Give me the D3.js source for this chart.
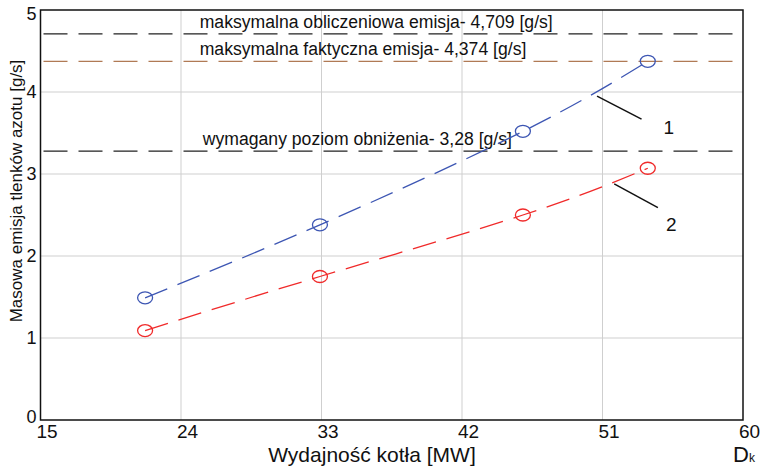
<!DOCTYPE html>
<html><head><meta charset="utf-8">
<script src="https://cdn.jsdelivr.net/npm/d3@7"></script>
<style>body{margin:0;background:#fff}svg{display:block}text{font-family:"Liberation Sans",Arial,sans-serif;fill:#111}</style>
</head><body>
<script>
const xTicks = [15, 24, 33, 42, 51, 60];
const yTicks = [0, 1, 2, 3, 4, 5];
const xValues = [21.7, 32.9, 45.9, 53.9];
const series1 = [1.49, 2.38, 3.52, 4.374];
const series2 = [1.09, 1.75, 2.50, 3.07];
const refValues = [4.709, 4.374, 3.28];
const refLabels = ["maksymalna obliczeniowa emisja- 4,709 [g/s]", "maksymalna faktyczna emisja- 4,374 [g/s]", "wymagany poziom obniżenia- 3,28 [g/s]"];
const refLabelX = [25.2, 25.2, 25.4];
const refColors = ["#222", "#b07a55", "#222"];
const seriesColors = ["#3d56b3", "#f02a2a"];
const leaderLabels = ["1", "2"];
const leaderFrom = [[50.65, 3.95], [51.75, 2.88]];
const leaderTo = [[53.5, 3.67], [54.55, 2.59]];
const leaderText = [[55.25, 3.49], [55.4, 2.31]];

const W = 764, H = 467;
const m = {left: 40.5, right: 743, top: 10, bottom: 420};
const x = d3.scaleLinear().domain([15, 60]).range([m.left, m.right]);
const y = d3.scaleLinear().domain([0, 5]).range([m.bottom, m.top]);
const FONT = '"Liberation Sans",Arial,sans-serif';

const svg = d3.select("body").append("svg").attr("width", W).attr("height", H);

// grid
svg.append("g").selectAll("line").data(xTicks.slice(1, -1)).join("line")
  .attr("x1", d => x(d)).attr("x2", d => x(d)).attr("y1", m.top).attr("y2", m.bottom)
  .attr("stroke", "#cfcfcf").attr("stroke-width", 1);
svg.append("g").selectAll("line").data(yTicks.slice(1, -1)).join("line")
  .attr("x1", m.left).attr("x2", m.right).attr("y1", d => y(d)).attr("y2", d => y(d))
  .attr("stroke", "#cfcfcf").attr("stroke-width", 1);

// reference lines
svg.append("g").selectAll("line").data(refValues).join("line")
  .attr("x1", m.left).attr("x2", m.right).attr("y1", d => y(d)).attr("y2", d => y(d))
  .attr("stroke", (d, i) => refColors[i]).attr("stroke-width", 1.3)
  .attr("stroke-dasharray", "24,11").attr("stroke-dashoffset", -3);
svg.append("g").selectAll("text").data(refLabels).join("text")
  .attr("x", (d, i) => x(refLabelX[i])).attr("y", (d, i) => y(refValues[i]) - 6)
  .attr("font-size", 17.6).text(d => d);

// frame
svg.append("rect").attr("x", m.left).attr("y", m.top).attr("width", m.right - m.left)
  .attr("height", m.bottom - m.top).attr("fill", "none").attr("stroke", "#111").attr("stroke-width", 1.5);

// axes labels via d3 axes
const xAxis = svg.append("g").attr("transform", `translate(6,${m.bottom})`)
  .call(d3.axisBottom(x).tickValues(xTicks).tickSize(0).tickPadding(5).tickFormat(d3.format("d")));
xAxis.select(".domain").remove();
xAxis.selectAll("text").attr("font-size", 19).style("font-family", FONT).attr("fill", "#111");
const yAxis = svg.append("g").attr("transform", `translate(${m.left},0)`)
  .call(d3.axisLeft(y).tickValues(yTicks).tickSize(0).tickPadding(4).tickFormat(d3.format("d")));
yAxis.select(".domain").remove();
yAxis.selectAll("text").attr("font-size", 18).style("font-family", FONT).attr("fill", "#111");
yAxis.selectAll(".tick").filter(d => d === 5).select("text").attr("dy", "0.5em");
yAxis.selectAll(".tick").filter(d => d === 0).select("text").attr("dy", "0.15em");

// titles
svg.append("text").attr("x", 372).attr("y", 462).attr("text-anchor", "middle")
  .attr("font-size", 21).text("Wydajność kotła [MW]");
const dk = svg.append("text").attr("x", 733).attr("y", 462).attr("font-size", 22);
dk.append("tspan").text("D");
dk.append("tspan").attr("font-size", 12).text("k");
svg.append("text").attr("transform", "translate(22,191) rotate(-90)").attr("text-anchor", "middle")
  .attr("font-size", 17).text("Masowa emisja tlenków azotu [g/s]");

// series
const line = d3.line().x(d => x(d[0])).y(d => y(d[1])).curve(d3.curveNatural);
[series1, series2].forEach((s, k) => {
  const pts = xValues.map((v, i) => [v, s[i]]);
  svg.append("path").datum(pts).attr("d", line).attr("fill", "none")
    .attr("stroke", seriesColors[k]).attr("stroke-width", 1.3).attr("stroke-dasharray", "24,11");
  svg.append("g").selectAll("ellipse").data(pts).join("ellipse")
    .attr("cx", d => x(d[0])).attr("cy", d => y(d[1])).attr("rx", 7.5).attr("ry", 6)
    .attr("fill", "none").attr("stroke", seriesColors[k]).attr("stroke-width", 1.3);
});

// leaders
svg.append("g").selectAll("line").data(leaderFrom).join("line")
  .attr("x1", d => x(d[0])).attr("y1", d => y(d[1]))
  .attr("x2", (d, i) => x(leaderTo[i][0])).attr("y2", (d, i) => y(leaderTo[i][1]))
  .attr("stroke", "#111").attr("stroke-width", 1.5);
svg.append("g").selectAll("text").data(leaderLabels).join("text")
  .attr("x", (d, i) => x(leaderText[i][0])).attr("y", (d, i) => y(leaderText[i][1]))
  .attr("text-anchor", "middle").attr("font-size", 19).text(d => d);
</script>
</body></html>
